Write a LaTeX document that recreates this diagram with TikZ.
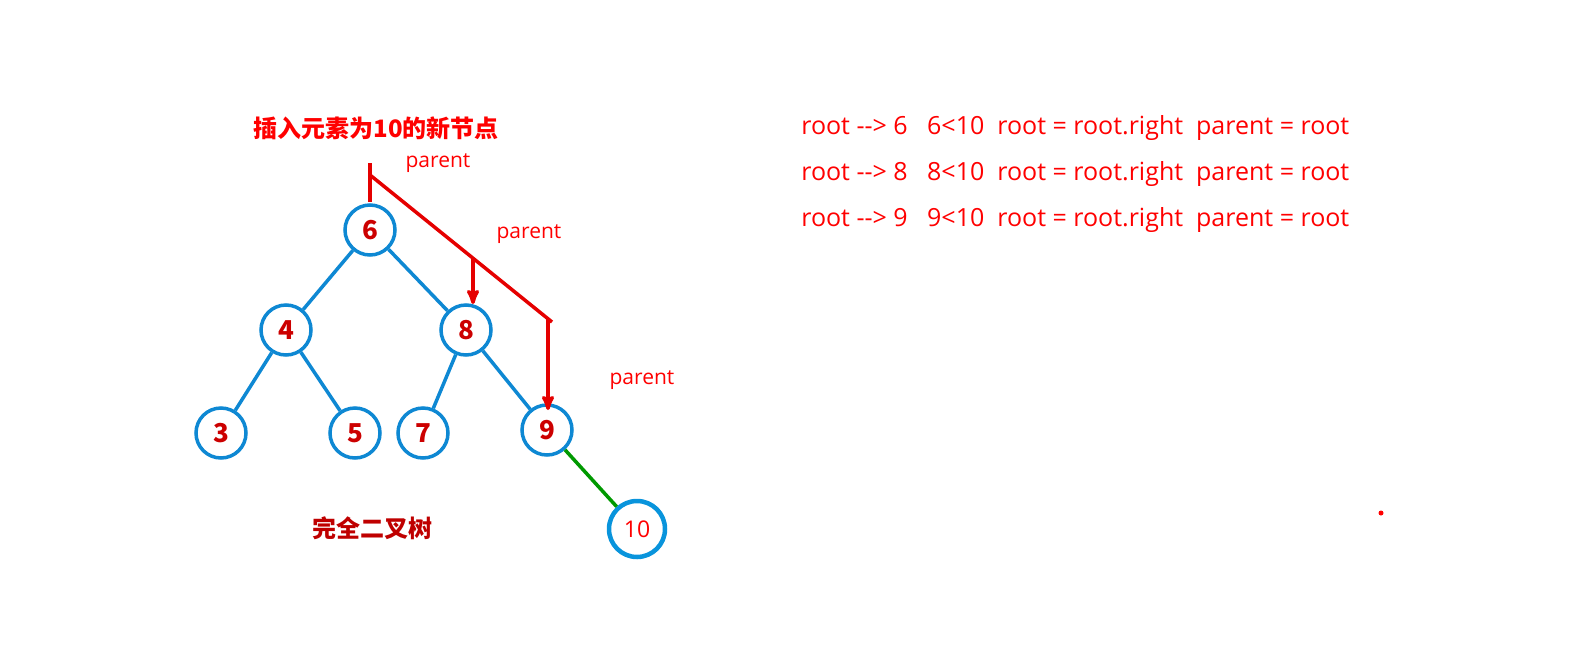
\documentclass[tikz,border=0pt]{standalone}
\usepackage{fontspec}
\setmainfont{Noto Sans CJK SC}
\newfontfamily\codefont{Open Sans}
\usetikzlibrary{arrows}

\begin{document}
\begin{tikzpicture}[x=1pt,y=-1pt,semithick]
\tikzset{every node/.style={inner sep=0pt},
  tnode/.style={circle,draw=cyan!70!blue,line width=3.5pt,minimum size=50pt,text=red!80!black,font=\fontsize{26}{26}\selectfont\bfseries},
  tedge/.style={draw=cyan!70!blue,line width=3.5pt},
  redline/.style={draw=red!90!black,line width=3.5pt},
  redtext/.style={text=red,font=\codefont\fontsize{21}{21}\selectfont},
  codeline/.style={text=red,anchor=west,font=\codefont\fontsize{25}{25}\selectfont}}
\useasboundingbox (0,0) rectangle (1569,654);

  \node[tnode] (n6)  at (370,230) {6};
  \node[tnode] (n4)  at (286,330) {4};
  \node[tnode] (n8)  at (466,330) {8};
  \node[tnode] (n3)  at (221,433) {3};
  \node[tnode] (n5)  at (355,433) {5};
  \node[tnode] (n7)  at (423,433) {7};
  \node[tnode] (n9)  at (547,430) {9};
  \node[circle,draw=cyan!80!blue,line width=4.5pt,minimum size=56pt,font=\codefont\fontsize{23}{23}\selectfont,text=red] (n10) at (637,529) {10};

  \draw[tedge] (n6) -- (n4);
  \draw[tedge] (n6) -- (n8);
  \draw[tedge] (n4) -- (n3);
  \draw[tedge] (n4) -- (n5);
  \draw[tedge] (n8) -- (n7);
  \draw[tedge] (n8) -- (n9);
  \draw[draw=green!60!black,line width=3.5pt] (n9) -- (n10);

  % insertion path
  \coordinate (top) at (370,163);
  \coordinate (bend) at (370,175);
  \coordinate (mid) at (473,258);
  \coordinate (far) at (552,322);
  \draw[redline] (top) -- (370,202);
  \draw[redline] (bend) -- (far);
  \draw[redline,->,>=stealth'] (mid) -- (473,304);
  \draw[redline,->,>=stealth'] (548,318) -- (548,410);

  \node[redtext] (p1) at (438,163) {parent};
  \node[redtext] (p2) at (529,234) {parent};
  \node[redtext] (p3) at (642,380) {parent};

  \node[text=red,font=\fontsize{24}{24}\selectfont\bfseries] (title) at (376,128) {插入元素为10的新节点};
  \node[text=red!75!black,font=\fontsize{24}{24}\selectfont\bfseries] (name) at (372,528) {完全二叉树};

  \node[codeline] (l1) at (801,128) {root {-}{-}> 6\ \ \ 6<10\ \ root = root.right\ \ parent = root};
  \node[codeline] (l2) at (801,174) {root {-}{-}> 8\ \ \ 8<10\ \ root = root.right\ \ parent = root};
  \node[codeline] (l3) at (801,220) {root {-}{-}> 9\ \ \ 9<10\ \ root = root.right\ \ parent = root};

  \fill[red] (1381,513) circle (2.5);
\end{tikzpicture}
\end{document}
